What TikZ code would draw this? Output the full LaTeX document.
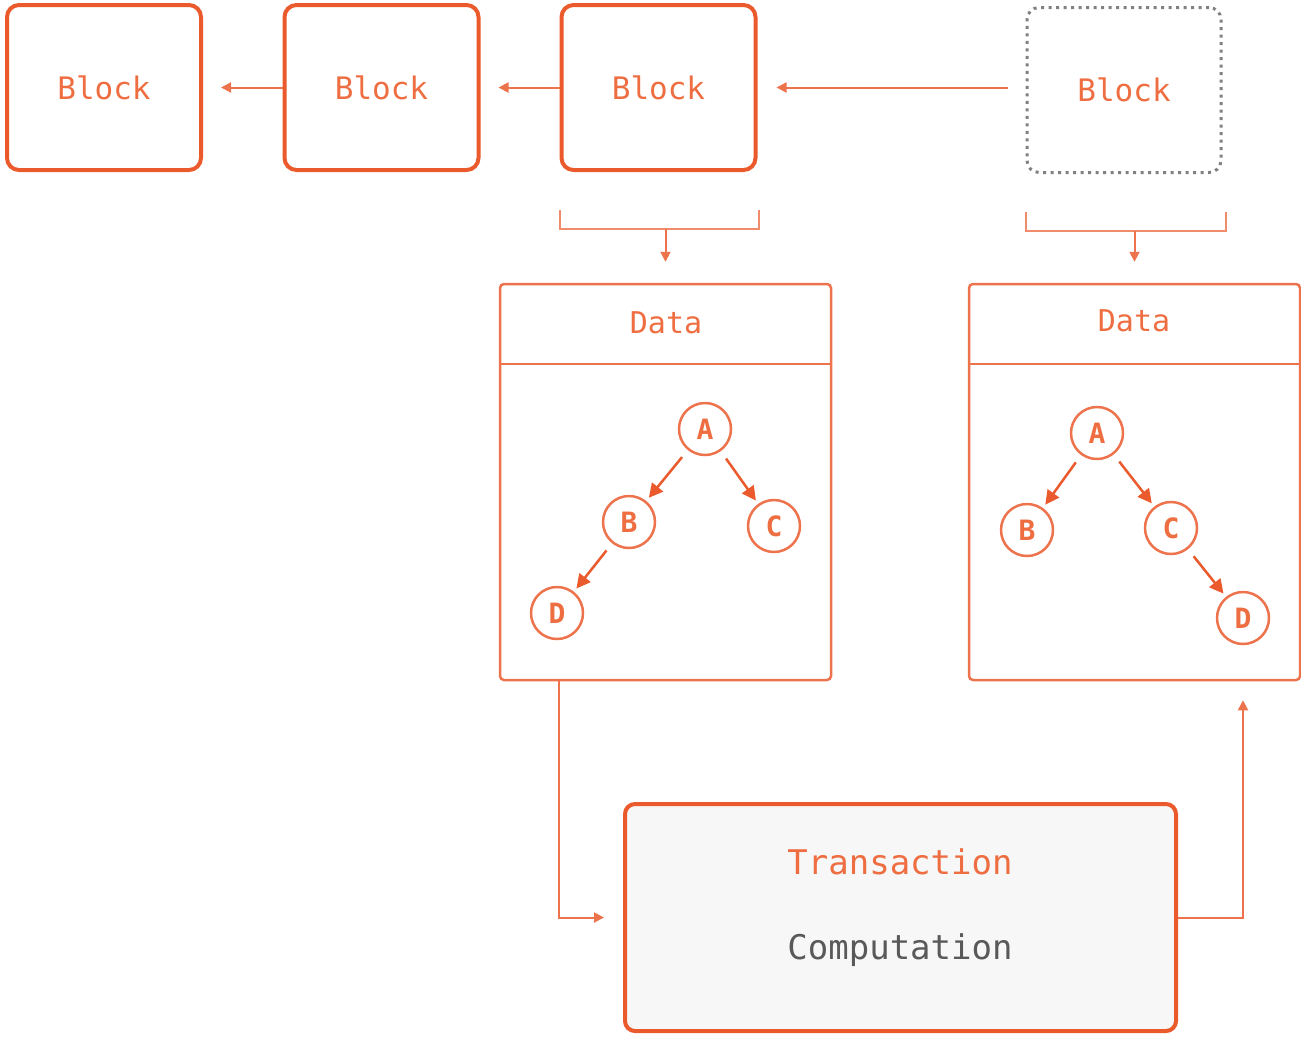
\documentclass[tikz,border=0pt]{standalone}
\usepackage{fontspec}
\newfontfamily\codefont{DejaVu Sans Mono}
\usetikzlibrary{arrows.meta,positioning}
\definecolor{chainred}{HTML}{EA5A2C}
\definecolor{chaintext}{HTML}{EE6E42}
\definecolor{chaingray}{HTML}{808080}

\begin{document}
\begin{tikzpicture}[x=1pt, y=-1pt,
blk/.style={draw=chainred, line width=4pt, rounded corners=12pt, minimum width=194pt, minimum height=165pt, text=chaintext, font=\codefont\fontsize{31}{36}\selectfont},
ghost/.style={blk, draw=chaingray, dash pattern=on 3pt off 4.5pt, line width=3pt},
dbox/.style={draw=chainred!85, line width=2.5pt, rounded corners=4pt, minimum width=331pt, minimum height=396pt},
dlbl/.style={text=chaintext, font=\codefont\fontsize{30}{36}\selectfont},
leaf/.style={circle, draw=chainred!85, line width=2.5pt, minimum size=52pt, inner sep=0pt, text=chaintext, font=\codefont\bfseries\fontsize{28}{32}\selectfont},
tx/.style={draw=chainred, line width=4pt, rounded corners=10pt, fill=black!3, minimum width=551pt, minimum height=227pt},
link/.style={draw=chainred!85, line width=2pt, -{Triangle[length=10pt,width=10pt]}},
edge/.style={draw=chainred, line width=2.5pt, -{Triangle[length=14pt,width=14pt]}, shorten <=9pt, shorten >=4pt},
brk/.style={draw=chainred!70, line width=2pt},
]
\useasboundingbox (0,0) rectangle (1301,1037);

% the chain
\node[blk] (b1) at (104,87.5) {Block};
\node[blk] (b2) at (381.5,87.5) {Block};
\node[blk] (b3) at (658.5,87.5) {Block};
\node[ghost] (b4) at (1124,90) {Block};
\draw[link, shorten >=18pt] (b2.west) -- (b1.east);
\draw[link, shorten >=18pt] (b3.west) -- (b2.east);
\draw[link, shorten >=19pt, shorten <=18pt] (b4.west |- b3.east) -- (b3.east);

% state before and after
\node[dbox] (d1) at (665.5,482) {};
\node[dbox] (d2) at (1134.5,482) {};
\node[dlbl] (d1t) at (666,323) {Data};
\node[dlbl] (d2t) at (1134,321) {Data};
\coordinate (h1) at (0,364);
\draw[draw=chainred!85, line width=2.5pt] (d1.west |- h1) -- (d1.east |- h1);
\draw[draw=chainred!85, line width=2.5pt] (d2.west |- h1) -- (d2.east |- h1);

% brackets under the blocks
\draw[brk] ([yshift=-38pt]b3.south west) -- ++(0,19) -- ++(199,0) -- ++(0,-19);
\draw[brk] ([yshift=-38pt]b4.south west) -- ++(0,19) -- ++(200,0) -- ++(0,-19);
\coordinate (k1) at ([yshift=-57pt]b3.south);
\coordinate (k2) at ([yshift=-57pt]b4.south);
\draw[link, shorten >=21pt] (k1 -| d1.north) -- (d1.north);
\draw[link, shorten >=21pt] (k2 -| d2.north) -- (d2.north);

% tries
\node[leaf] (a1) at (705,429) {A};
\node[leaf] (bb1) at (629,522) {B};
\node[leaf] (c1) at (774,526) {C};
\node[leaf] (dd1) at (557,613) {D};
\draw[edge] (a1) -- (bb1);
\draw[edge] (a1) -- (c1);
\draw[edge] (bb1) -- (dd1);

\node[leaf] (a2) at (1097,433) {A};
\node[leaf] (bb2) at (1027,530) {B};
\node[leaf] (c2) at (1171,528) {C};
\node[leaf] (dd2) at (1243,618) {D};
\draw[edge] (a2) -- (bb2);
\draw[edge] (a2) -- (c2);
\draw[edge] (c2) -- (dd2);

% transaction
\node[tx] (t) at (900.5,917.5) {};
\node[dlbl, font=\codefont\fontsize{34}{40}\selectfont] (tt) at (900,862) {Transaction};
\node[dlbl, text=black!65, font=\codefont\fontsize{34}{40}\selectfont] (tc) at (900,950) {Computation};
\draw[link, shorten >=19pt] ([xshift=-106.5pt]d1.south) |- (t.west);
\draw[link, shorten >=19pt] (t.east) -| ([xshift=108.5pt]d2.south);
\end{tikzpicture}
\end{document}
